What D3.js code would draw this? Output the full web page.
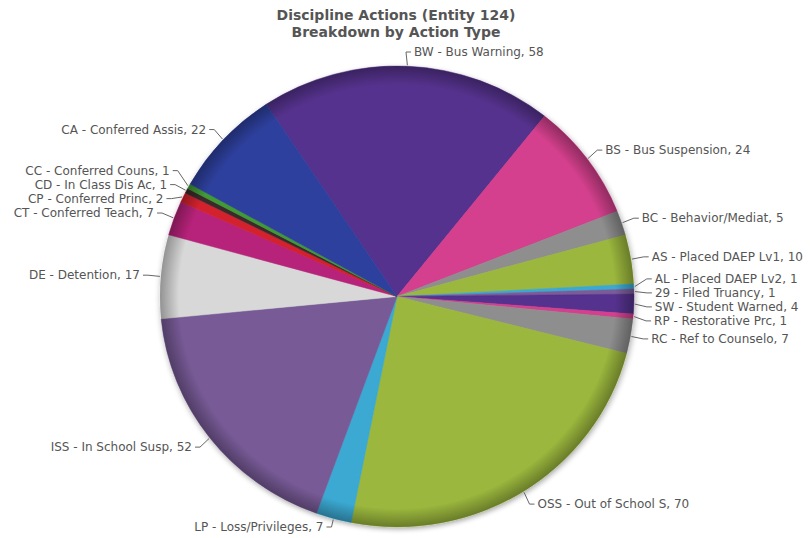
<!DOCTYPE html>
<html>
<head>
<meta charset="utf-8">
<script src="https://cdn.jsdelivr.net/npm/d3@7"></script>
<style>
  body { margin: 0; background: #fff; }
  .title { font-family: "DejaVu Sans", sans-serif; font-weight: bold; font-size: 14px; fill: #555; }
  .lbl { font-family: "DejaVu Sans", sans-serif; font-size: 12px; fill: #555; }
</style>
</head>
<body>
<div id="chart"></div>
<script>
// data, clockwise from the top slice
var categories = ["BW - Bus Warning", "BS - Bus Suspension", "BC - Behavior/Mediat", "AS - Placed DAEP Lv1",
  "AL - Placed DAEP Lv2", "29 - Filed Truancy", "SW - Student Warned", "RP - Restorative Prc",
  "RC - Ref to Counselo", "OSS - Out of School S", "LP - Loss/Privileges", "ISS - In School Susp",
  "DE - Detention", "CT - Conferred Teach", "CP - Conferred Princ", "CD - In Class Dis Ac",
  "CC - Conferred Couns", "CA - Conferred Assis"];
var values = [58, 24, 5, 10, 1, 1, 4, 1, 7, 70, 7, 52, 17, 7, 2, 1, 1, 22];
var colors = ["#55308d", "#d43f8d", "#8e8e8e", "#9bb73e", "#3aa9d2", "#7a5c99",
  "#55308d", "#d43f8d", "#8e8e8e", "#9bb73e", "#3aa9d2", "#775a96",
  "#d8d8d8", "#b7237a", "#d3202f", "#3a2a2a", "#3f9b35", "#2e3f9e"];
var titleLines = ["Discipline Actions (Entity 124)", "Breakdown by Action Type"];

var svgWidth = 810, svgHeight = 538;
var cx = 397, cy = 296.5, rx = 237, ry = 230.5;
var startDeg = -33.5;
var dist = 15, gap = 6, lineH = 14;
var minY = 52, maxY = 527;

var svg = d3.select("#chart").append("svg")
  .attr("width", svgWidth)
  .attr("height", svgHeight);

svg.selectAll("text.title")
  .data(titleLines)
  .enter().append("text")
  .attr("class", "title")
  .attr("x", 396)
  .attr("y", (d, i) => 20 + i * 17)
  .attr("text-anchor", "middle")
  .text(d => d);

var defs = svg.append("defs");
var shadow = defs.append("filter").attr("id", "shadow")
  .attr("x", "-10%").attr("y", "-10%").attr("width", "120%").attr("height", "120%");
shadow.append("feGaussianBlur").attr("in", "SourceAlpha").attr("stdDeviation", 3);
shadow.append("feOffset").attr("dx", 1).attr("dy", 2).attr("result", "b");
shadow.append("feComponentTransfer").append("feFuncA").attr("type", "linear").attr("slope", 0.35);
var merge = shadow.append("feMerge");
merge.append("feMergeNode");
merge.append("feMergeNode").attr("in", "SourceGraphic");

var grad = defs.append("radialGradient").attr("id", "edge");
grad.append("stop").attr("offset", "0%").attr("stop-color", "#000").attr("stop-opacity", 0);
grad.append("stop").attr("offset", "92%").attr("stop-color", "#000").attr("stop-opacity", 0);
grad.append("stop").attr("offset", "100%").attr("stop-color", "#000").attr("stop-opacity", 0.32);

var pie = d3.pie().sort(null).value(d => d)
  .startAngle(startDeg * Math.PI / 180)
  .endAngle((startDeg + 360) * Math.PI / 180);
var arcs = pie(values);
var arc = d3.arc().innerRadius(0).outerRadius(rx);

var pieGroup = svg.append("g")
  .attr("transform", `translate(${cx},${cy}) scale(1,${ry / rx})`);
var slices = pieGroup.append("g").attr("filter", "url(#shadow)");
slices.selectAll("path")
  .data(arcs)
  .enter().append("path")
  .attr("d", arc)
  .attr("fill", (d, i) => colors[i])
  .attr("stroke", (d, i) => colors[i])
  .attr("stroke-width", 0.5);
pieGroup.append("circle").attr("r", rx).attr("fill", "url(#edge)");

// label layout
var labels = arcs.map(function(d, i) {
  var mid = (d.startAngle + d.endAngle) / 2;
  return {
    text: categories[i] + ", " + values[i],
    mid: mid,
    right: Math.sin(mid) >= 0,
    x: cx + (rx + dist) * Math.sin(mid),
    want: Math.min(maxY, Math.max(minY, cy - (ry + dist) * Math.cos(mid))),
    ex: cx + (rx + 1) * Math.sin(mid),
    ey: cy - (ry + 1) * Math.cos(mid)
  };
});

// stack overlapping labels into clusters centred on their wanted spots
function place(side) {
  side.sort((a, b) => a.want - b.want);
  var clusters = side.map(d => ({ items: [d], top: d.want }));
  var moved = true;
  while (moved) {
    moved = false;
    for (var i = 0; i < clusters.length - 1; i++) {
      var a = clusters[i], b = clusters[i + 1];
      if (a.top + a.items.length * lineH > b.top) {
        var items = a.items.concat(b.items);
        var top = d3.mean(items, d => d.want) - (items.length - 1) * lineH / 2;
        top = Math.max(minY, Math.min(maxY - (items.length - 1) * lineH, top));
        clusters.splice(i, 2, { items: items, top: top });
        moved = true;
        break;
      }
    }
  }
  clusters.forEach(c => c.items.forEach((d, j) => d.y = c.top + j * lineH));
}
place(labels.filter(d => d.right));
place(labels.filter(d => !d.right));

var lg = svg.append("g");
lg.selectAll("path")
  .data(labels)
  .enter().append("path")
  .attr("fill", "none")
  .attr("stroke", "#666")
  .attr("stroke-width", 1)
  .attr("d", function(d) {
    var s = d.right ? 1 : -1;
    return "M" + d.ex + "," + d.ey +
      "L" + (d.x - 2 * s) + "," + d.y +
      "L" + (d.x + 3 * s) + "," + d.y;
  });

lg.selectAll("text")
  .data(labels)
  .enter().append("text")
  .attr("class", "lbl")
  .attr("x", d => d.right ? d.x + gap : d.x - gap)
  .attr("y", d => d.y)
  .attr("dy", "0.35em")
  .attr("text-anchor", d => d.right ? "start" : "end")
  .text(d => d.text);
</script>
</body>
</html>
